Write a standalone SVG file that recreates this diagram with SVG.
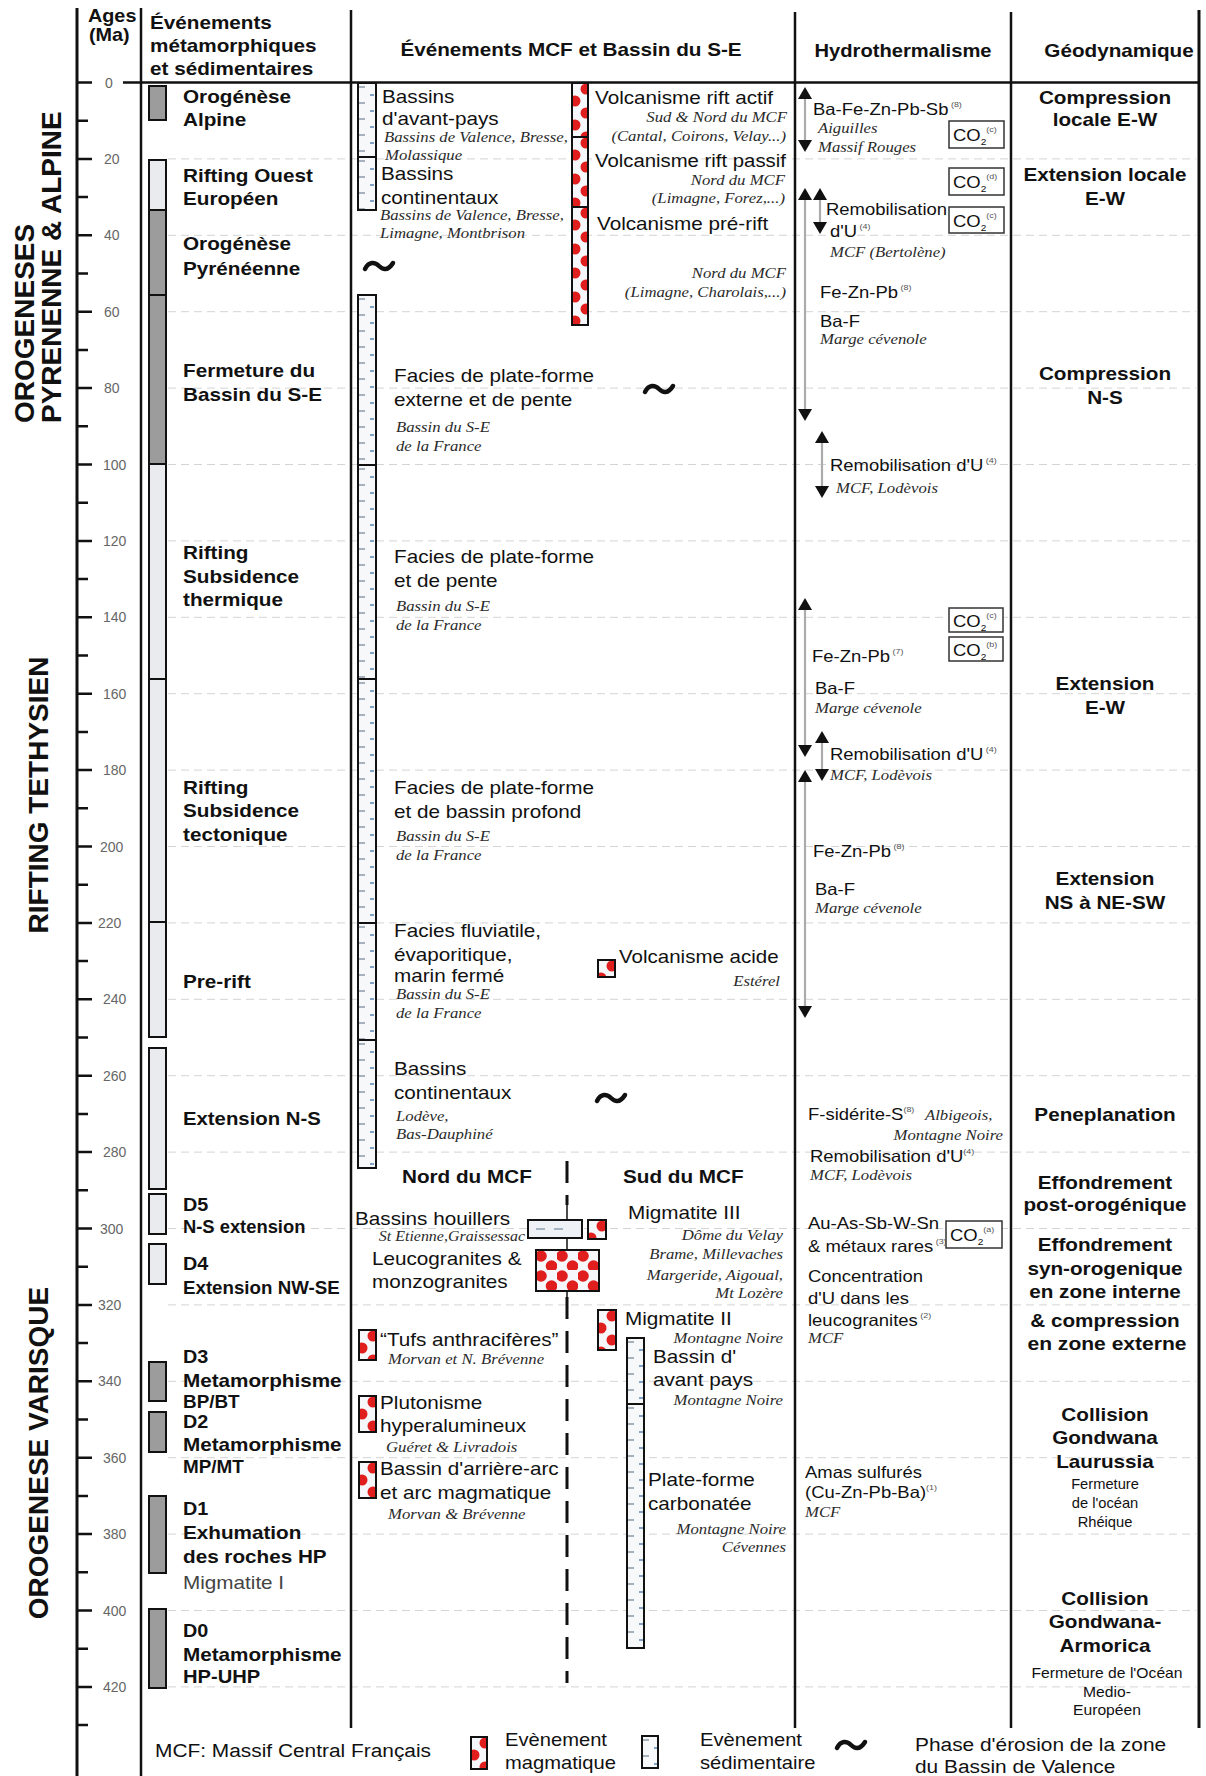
<svg xmlns="http://www.w3.org/2000/svg" width="1206" height="1776" viewBox="0 0 1206 1776">
<style>
text{font-family:"Liberation Sans",Arial,sans-serif;fill:#111}
.b{font-weight:bold;font-size:18px}
.r{font-size:18px}
.h{font-size:16.5px}
.i{font-family:"Liberation Serif","Times New Roman",serif;font-style:italic;font-size:15.5px;fill:#2a2a2a}
.t{font-size:14px;fill:#666}
.s{font-size:14px}
.e{text-anchor:end}
.m{text-anchor:middle}
.sup{font-size:8px;fill:#555}
.ttl{font-weight:bold;font-size:28px}
.col{stroke:#111;stroke-width:2.5;fill:none}
.axl{stroke:#111;stroke-width:3;fill:none}
.tk{stroke:#111;stroke-width:2.5;fill:none}
.grid{stroke:#d4d4d4;stroke-width:1;stroke-dasharray:8 5;fill:none}
.bar{stroke:#111;stroke-width:2}
.gray{fill:#9c9c9c}
.light{fill:#e9ebee}
.hl{stroke:#ababab;stroke-width:2.2;fill:none}
.co{fill:#fff;stroke:#333;stroke-width:1.5}
.til{fill:none;stroke:#111;stroke-width:4.5;stroke-linecap:round}
.sep{stroke:#111;stroke-width:3;stroke-dasharray:22 12;fill:none}
.thin{stroke:#111;stroke-width:1.5;fill:none}
</style>
<defs>
<pattern id="mag" patternUnits="userSpaceOnUse" width="17" height="24">
<rect width="17" height="24" fill="#f5f7fa"/>
<circle cx="14" cy="6" r="5.5" fill="#e01e1e"/>
<circle cx="3" cy="18" r="5.5" fill="#e01e1e"/>
</pattern>
<pattern id="magB" patternUnits="userSpaceOnUse" width="21" height="20">
<rect width="21" height="20" fill="#f5f7fa"/>
<circle cx="5" cy="6" r="5.8" fill="#e01e1e"/>
<circle cx="15.5" cy="16" r="5.8" fill="#e01e1e"/>
</pattern>
<pattern id="sed" patternUnits="userSpaceOnUse" width="18" height="16">
<rect width="18" height="16" fill="#f6f8fa"/>
<path d="M0,4h7" stroke="#8d9aa8" stroke-width="1.5"/>
<path d="M12,12h4" stroke="#5b86b5" stroke-width="1.5"/>
</pattern>
<path id="til" class="til" d="M-14,3C-10,-5 -4,-4 0,0C4,4 9,5 14,-3"/>
<path id="au" d="M0,-6L7,6H-7Z" fill="#111"/>
<path id="ad" d="M0,6L7,-6H-7Z" fill="#111"/>
</defs>
<rect width="1206" height="1776" fill="#fff"/>

<g id="grid">
<path class="grid" d="M168,158.9H1196M168,235.3H1196M168,311.7H1196M168,388.1H1196M168,464.5H1196M168,540.9H1196M168,617.3H1196M168,693.7H1196M168,770.1H1196M168,846.5H1196M168,922.9H1196M168,999.3H1196M168,1075.7H1196M168,1152.1H1196M168,1228.5H1196M168,1304.9H1196M168,1381.3H1196M168,1457.7H1196M168,1534.1H1196M168,1610.5H1196M168,1686.9H1196"/>
</g>

<g id="frame">
<path class="axl" d="M77,8V1776"/>
<path class="col" d="M141,8V1776M351,10V1728M795,12V1728M1011,12V1728M123,82.5H1200"/>
<path class="axl" d="M1199,10V1728"/>
</g>

<g id="axis">
<path class="tk" d="M77,82.5h15M77,158.9h15M77,235.3h15M77,311.7h15M77,388.1h15M77,464.5h15M77,540.9h15M77,617.3h15M77,693.7h15M77,770.1h15M77,846.5h15M77,922.9h15M77,999.3h15M77,1075.7h15M77,1152.1h15M77,1228.5h15M77,1304.9h15M77,1381.3h15M77,1457.7h15M77,1534.1h15M77,1610.5h15M77,1686.9h15"/>
<path class="tk" d="M77,120.7h11M77,197.1h11M77,273.5h11M77,349.9h11M77,426.3h11M77,502.7h11M77,579.1h11M77,655.5h11M77,731.9h11M77,808.3h11M77,884.7h11M77,961.1h11M77,1037.5h11M77,1113.9h11M77,1190.3h11M77,1266.7h11M77,1343.1h11M77,1419.5h11M77,1495.9h11M77,1572.3h11M77,1648.7h11M77,1725.1h11"/>
<text class="t" x="105" y="87.5">0</text>
<text class="t" x="104" y="163.9">20</text>
<text class="t" x="104" y="240.3">40</text>
<text class="t" x="104" y="316.7">60</text>
<text class="t" x="104" y="393.1">80</text>
<text class="t" x="103" y="469.5">100</text>
<text class="t" x="103" y="545.9">120</text>
<text class="t" x="103" y="622.3">140</text>
<text class="t" x="103" y="698.7">160</text>
<text class="t" x="103" y="775.1">180</text>
<text class="t" x="100" y="851.5">200</text>
<text class="t" x="98" y="927.9">220</text>
<text class="t" x="103" y="1004.3">240</text>
<text class="t" x="103" y="1080.7">260</text>
<text class="t" x="103" y="1157.1">280</text>
<text class="t" x="100" y="1233.5">300</text>
<text class="t" x="98" y="1309.9">320</text>
<text class="t" x="98" y="1386.3">340</text>
<text class="t" x="103" y="1462.7">360</text>
<text class="t" x="103" y="1539.1">380</text>
<text class="t" x="103" y="1615.5">400</text>
<text class="t" x="103" y="1691.9">420</text>
</g>

<g id="titles">
<text class="ttl" transform="translate(34 423) rotate(-90)">OROGENESES</text>
<text class="ttl" transform="translate(61 423) rotate(-90)">PYRENENNE &amp; ALPINE</text>
<text class="ttl m" transform="translate(48 795) rotate(-90)">RIFTING TETHYSIEN</text>
<text class="ttl m" transform="translate(48 1453) rotate(-90)">OROGENESE VARISQUE</text>
</g>

<g id="headers">
<text class="b" transform="translate(88 22) scale(1.1 1)">Ages</text>
<text class="b" transform="translate(89 41) scale(1.1 1)">(Ma)</text>
<text class="b" transform="translate(150 29) scale(1.15 1)">Événements</text>
<text class="b" transform="translate(150 52) scale(1.15 1)">métamorphiques</text>
<text class="b" transform="translate(150 75) scale(1.15 1)">et sédimentaires</text>
<text class="b m" transform="translate(571 56) scale(1.15 1)">Événements MCF et Bassin du S-E</text>
<text class="b m" transform="translate(903 57) scale(1.12 1)">Hydrothermalisme</text>
<text class="b m" transform="translate(1119 57) scale(1.15 1)">Géodynamique</text>
</g>

<g id="meta-bars">
<rect class="bar gray" x="149" y="86" width="17" height="34"/>
<rect class="bar light" x="149" y="160" width="17" height="50"/>
<rect class="bar gray" x="149" y="210" width="17" height="85"/>
<rect class="bar gray" x="149" y="295" width="17" height="169"/>
<rect class="bar light" x="149" y="464" width="17" height="215"/>
<rect class="bar light" x="149" y="679" width="17" height="243"/>
<rect class="bar light" x="149" y="922" width="17" height="115"/>
<rect class="bar light" x="149" y="1048" width="17" height="141"/>
<rect class="bar light" x="149" y="1194" width="17" height="40"/>
<rect class="bar light" x="149" y="1244" width="17" height="40"/>
<rect class="bar gray" x="149" y="1362" width="17" height="39"/>
<rect class="bar gray" x="149" y="1412" width="17" height="40"/>
<rect class="bar gray" x="149" y="1496" width="17" height="77"/>
<rect class="bar gray" x="149" y="1609" width="17" height="79"/>
</g>

<g id="meta-labels">
<text class="b" transform="translate(183 103) scale(1.15 1)">Orogénèse</text>
<text class="b" transform="translate(183 126) scale(1.15 1)">Alpine</text>
<text class="b" transform="translate(183 182) scale(1.15 1)">Rifting Ouest</text>
<text class="b" transform="translate(183 205) scale(1.15 1)">Européen</text>
<text class="b" transform="translate(183 250) scale(1.15 1)">Orogénèse</text>
<text class="b" transform="translate(183 275) scale(1.15 1)">Pyrénéenne</text>
<text class="b" transform="translate(183 377) scale(1.15 1)">Fermeture du</text>
<text class="b" transform="translate(183 401) scale(1.15 1)">Bassin du S-E</text>
<text class="b" transform="translate(183 559) scale(1.15 1)">Rifting</text>
<text class="b" transform="translate(183 583) scale(1.15 1)">Subsidence</text>
<text class="b" transform="translate(183 606) scale(1.15 1)">thermique</text>
<text class="b" transform="translate(183 794) scale(1.15 1)">Rifting</text>
<text class="b" transform="translate(183 817) scale(1.15 1)">Subsidence</text>
<text class="b" transform="translate(183 841) scale(1.15 1)">tectonique</text>
<text class="b" transform="translate(183 988) scale(1.15 1)">Pre-rift</text>
<text class="b" transform="translate(183 1125) scale(1.13 1)">Extension N-S</text>
<text class="b" transform="translate(183 1211) scale(1.1 1)">D5</text>
<text class="b" transform="translate(183 1233) scale(1.02 1)">N-S extension</text>
<text class="b" transform="translate(183 1270) scale(1.1 1)">D4</text>
<text class="b" transform="translate(183 1294) scale(1.04 1)">Extension NW-SE</text>
<text class="b" transform="translate(183 1363) scale(1.1 1)">D3</text>
<text class="b" transform="translate(183 1387) scale(1.15 1)">Metamorphisme</text>
<text class="b" transform="translate(183 1408) scale(1.05 1)">BP/BT</text>
<text class="b" transform="translate(183 1428) scale(1.1 1)">D2</text>
<text class="b" transform="translate(183 1451) scale(1.15 1)">Metamorphisme</text>
<text class="b" transform="translate(183 1473) scale(1.05 1)">MP/MT</text>
<text class="b" transform="translate(183 1515) scale(1.1 1)">D1</text>
<text class="b" transform="translate(183 1539) scale(1.15 1)">Exhumation</text>
<text class="b" transform="translate(183 1563) scale(1.15 1)">des roches HP</text>
<text class="r" transform="translate(183 1589) scale(1.15 1)" style="fill:#444">Migmatite I</text>
<text class="b" transform="translate(183 1637) scale(1.1 1)">D0</text>
<text class="b" transform="translate(183 1661) scale(1.15 1)">Metamorphisme</text>
<text class="b" transform="translate(183 1683) scale(1.12 1)">HP-UHP</text>
</g>

<g id="sed-bars">
<g transform="translate(358 83)"><rect class="bar" width="18" height="74" fill="url(#sed)"/></g>
<g transform="translate(358 157)"><rect class="bar" width="18" height="53" fill="url(#sed)"/></g>
<g transform="translate(358 295)"><rect class="bar" width="18" height="170" fill="url(#sed)"/></g>
<g transform="translate(358 465)"><rect class="bar" width="18" height="214" fill="url(#sed)"/></g>
<g transform="translate(358 679)"><rect class="bar" width="18" height="244" fill="url(#sed)"/></g>
<g transform="translate(358 923)"><rect class="bar" width="18" height="117" fill="url(#sed)"/></g>
<g transform="translate(358 1040)"><rect class="bar" width="18" height="128" fill="url(#sed)"/></g>
<g transform="translate(627 1338)"><rect class="bar" width="17" height="66" fill="url(#sed)"/></g>
<g transform="translate(627 1404)"><rect class="bar" width="17" height="244" fill="url(#sed)"/></g>
</g>

<g id="volc-bars">
<g transform="translate(572 83)"><rect class="bar" width="16" height="54" fill="url(#mag)"/></g>
<g transform="translate(572 137)"><rect class="bar" width="16" height="70" fill="url(#mag)"/></g>
<g transform="translate(572 207)"><rect class="bar" width="16" height="118" fill="url(#mag)"/></g>
<g transform="translate(598 960)"><rect class="bar" width="17" height="17" fill="url(#mag)"/></g>
</g>

<g id="erosion">
<use href="#til" x="379" y="266"/>
<use href="#til" x="659" y="389"/>
<use href="#til" x="611" y="1098"/>
</g>

<g id="mcf-texts">
<text class="r" transform="translate(382 103) scale(1.15 1)">Bassins</text>
<text class="r" transform="translate(382 125) scale(1.15 1)">d'avant-pays</text>
<text class="i" transform="translate(384 142) scale(1.08 1)">Bassins de Valence, Bresse,</text>
<text class="i" transform="translate(385 160) scale(1.08 1)">Molassique</text>
<text class="r" transform="translate(381 180) scale(1.15 1)">Bassins</text>
<text class="r" transform="translate(381 204) scale(1.15 1)">continentaux</text>
<text class="i" transform="translate(380 220) scale(1.08 1)">Bassins de Valence, Bresse,</text>
<text class="i" transform="translate(380 238) scale(1.08 1)">Limagne, Montbrison</text>
<text class="r" transform="translate(595 104) scale(1.15 1)">Volcanisme rift actif</text>
<text class="i e" transform="translate(787 122) scale(1.08 1)">Sud &amp; Nord du MCF</text>
<text class="i e" transform="translate(786 141) scale(1.08 1)">(Cantal, Coirons, Velay...)</text>
<text class="r" transform="translate(595 167) scale(1.13 1)">Volcanisme rift passif</text>
<text class="i e" transform="translate(785 185) scale(1.08 1)">Nord du MCF</text>
<text class="i e" transform="translate(785 203) scale(1.08 1)">(Limagne, Forez,...)</text>
<text class="r" transform="translate(597 230) scale(1.15 1)">Volcanisme pré-rift</text>
<text class="i e" transform="translate(786 278) scale(1.08 1)">Nord du MCF</text>
<text class="i e" transform="translate(786 297) scale(1.08 1)">(Limagne, Charolais,...)</text>

<text class="r" transform="translate(394 382) scale(1.15 1)">Facies de plate-forme</text>
<text class="r" transform="translate(394 406) scale(1.15 1)">externe et de pente</text>
<text class="i" transform="translate(396 432) scale(1.08 1)">Bassin du S-E</text>
<text class="i" transform="translate(396 451) scale(1.08 1)">de la France</text>
<text class="r" transform="translate(394 563) scale(1.15 1)">Facies de plate-forme</text>
<text class="r" transform="translate(394 587) scale(1.15 1)">et de pente</text>
<text class="i" transform="translate(396 611) scale(1.08 1)">Bassin du S-E</text>
<text class="i" transform="translate(396 630) scale(1.08 1)">de la France</text>
<text class="r" transform="translate(394 794) scale(1.15 1)">Facies de plate-forme</text>
<text class="r" transform="translate(394 818) scale(1.15 1)">et de bassin profond</text>
<text class="i" transform="translate(396 841) scale(1.08 1)">Bassin du S-E</text>
<text class="i" transform="translate(396 860) scale(1.08 1)">de la France</text>
<text class="r" transform="translate(394 937) scale(1.15 1)">Facies fluviatile,</text>
<text class="r" transform="translate(394 961) scale(1.15 1)">évaporitique,</text>
<text class="r" transform="translate(394 982) scale(1.15 1)">marin fermé</text>
<text class="i" transform="translate(396 999) scale(1.08 1)">Bassin du S-E</text>
<text class="i" transform="translate(396 1018) scale(1.08 1)">de la France</text>
<text class="r" transform="translate(619 963) scale(1.14 1)">Volcanisme acide</text>
<text class="i e" transform="translate(780 986) scale(1.08 1)">Estérel</text>
<text class="r" transform="translate(394 1075) scale(1.15 1)">Bassins</text>
<text class="r" transform="translate(394 1099) scale(1.15 1)">continentaux</text>
<text class="i" transform="translate(396 1121) scale(1.08 1)">Lodève,</text>
<text class="i" transform="translate(396 1139) scale(1.08 1)">Bas-Dauphiné</text>
</g>

<g id="nord-sud">
<path class="sep" d="M567,1161V1205M567,1297V1683"/>
<path class="thin" d="M567,1205V1220M567,1238V1250M567,1291V1297"/>
<g transform="translate(528 1220)"><rect class="bar" width="54" height="18" fill="#eef2f6"/><path d="M8,9h9M26,9h9" stroke="#8da0b3" stroke-width="1.5"/></g>
<g transform="translate(588 1220)"><rect class="bar" width="18" height="19" fill="url(#mag)"/></g>
<g transform="translate(536 1250)"><rect class="bar" width="63" height="41" fill="url(#magB)"/></g>
<g transform="translate(359 1330)"><rect class="bar" width="17" height="30" fill="url(#mag)"/></g>
<g transform="translate(359 1396)"><rect class="bar" width="17" height="36" fill="url(#mag)"/></g>
<g transform="translate(359 1462)"><rect class="bar" width="17" height="36" fill="url(#mag)"/></g>
<g transform="translate(598 1310)"><rect class="bar" width="18" height="40" fill="url(#mag)"/></g>
<text class="b" transform="translate(402 1183) scale(1.15 1)">Nord du MCF</text>
<text class="b" transform="translate(623 1183) scale(1.15 1)">Sud du MCF</text>
<text class="r" transform="translate(355 1225) scale(1.15 1)">Bassins houillers</text>
<text class="i e" transform="translate(525 1241) scale(1.03 1)">St Etienne,Graissessac</text>
<text class="r" transform="translate(372 1265) scale(1.15 1)">Leucogranites &amp;</text>
<text class="r" transform="translate(372 1288) scale(1.15 1)">monzogranites</text>
<text class="r" transform="translate(380 1346) scale(1.15 1)">“Tufs anthracifères”</text>
<text class="i" transform="translate(388 1364) scale(1.08 1)">Morvan et N. Brévenne</text>
<text class="r" transform="translate(380 1409) scale(1.15 1)">Plutonisme</text>
<text class="r" transform="translate(380 1432) scale(1.15 1)">hyperalumineux</text>
<text class="i" transform="translate(386 1452) scale(1.08 1)">Guéret &amp; Livradois</text>
<text class="r" transform="translate(380 1475) scale(1.15 1)">Bassin d'arrière-arc</text>
<text class="r" transform="translate(380 1499) scale(1.15 1)">et arc magmatique</text>
<text class="i" transform="translate(388 1519) scale(1.08 1)">Morvan &amp; Brévenne</text>
<text class="r" transform="translate(628 1219) scale(1.15 1)">Migmatite III</text>
<text class="i e" transform="translate(783 1240) scale(1.08 1)">Dôme du Velay</text>
<text class="i e" transform="translate(783 1259) scale(1.08 1)">Brame, Millevaches</text>
<text class="i e" transform="translate(783 1280) scale(1.08 1)">Margeride, Aigoual,</text>
<text class="i e" transform="translate(783 1298) scale(1.08 1)">Mt Lozère</text>
<text class="r" transform="translate(625 1325) scale(1.15 1)">Migmatite II</text>
<text class="i e" transform="translate(783 1343) scale(1.08 1)">Montagne Noire</text>
<text class="r" transform="translate(653 1363) scale(1.15 1)">Bassin d'</text>
<text class="r" transform="translate(653 1386) scale(1.15 1)">avant pays</text>
<text class="i e" transform="translate(783 1405) scale(1.08 1)">Montagne Noire</text>
<text class="r" transform="translate(648 1486) scale(1.15 1)">Plate-forme</text>
<text class="r" transform="translate(648 1510) scale(1.15 1)">carbonatée</text>
<text class="i e" transform="translate(786 1534) scale(1.08 1)">Montagne Noire</text>
<text class="i e" transform="translate(786 1552) scale(1.08 1)">Cévennes</text>
</g>

<g id="hydro">
<path class="hl" d="M805,93V146M805,194V415M820,194V228M822,437V492M805,604V751M822,737V775M805,776V1012"/>
<use href="#au" x="805" y="93"/><use href="#ad" x="805" y="146"/>
<use href="#au" x="805" y="194"/><use href="#ad" x="805" y="415"/>
<use href="#au" x="820" y="194"/><use href="#ad" x="820" y="228"/>
<use href="#au" x="822" y="437"/><use href="#ad" x="822" y="492"/>
<use href="#au" x="805" y="604"/><use href="#ad" x="805" y="751"/>
<use href="#au" x="822" y="737"/><use href="#ad" x="822" y="775"/>
<use href="#au" x="805" y="776"/><use href="#ad" x="805" y="1012"/>

<g transform="translate(949 121)"><rect class="co" width="55" height="27"/><text class="h" transform="translate(4 20) scale(1.12 1)">CO<tspan font-size="9" dy="4">2</tspan><tspan class="sup" dy="-13">(c)</tspan></text></g>
<g transform="translate(949 168)"><rect class="co" width="55" height="27"/><text class="h" transform="translate(4 20) scale(1.12 1)">CO<tspan font-size="9" dy="4">2</tspan><tspan class="sup" dy="-13">(d)</tspan></text></g>
<g transform="translate(949 207)"><rect class="co" width="55" height="26"/><text class="h" transform="translate(4 20) scale(1.12 1)">CO<tspan font-size="9" dy="4">2</tspan><tspan class="sup" dy="-13">(c)</tspan></text></g>
<g transform="translate(949 608)"><rect class="co" width="54" height="24"/><text class="h" transform="translate(4 19) scale(1.12 1)">CO<tspan font-size="9" dy="4">2</tspan><tspan class="sup" dy="-13">(c)</tspan></text></g>
<g transform="translate(949 637)"><rect class="co" width="54" height="24"/><text class="h" transform="translate(4 19) scale(1.12 1)">CO<tspan font-size="9" dy="4">2</tspan><tspan class="sup" dy="-13">(b)</tspan></text></g>
<g transform="translate(946 1221)"><rect class="co" width="56" height="27"/><text class="h" transform="translate(4 20) scale(1.12 1)">CO<tspan font-size="9" dy="4">2</tspan><tspan class="sup" dy="-13">(a)</tspan></text></g>

<text class="h" transform="translate(813 115) scale(1.12 1)">Ba-Fe-Zn-Pb-Sb<tspan class="sup" dy="-8"> (8)</tspan></text>
<text class="i" transform="translate(818 133) scale(1.08 1)">Aiguilles</text>
<text class="i" transform="translate(818 152) scale(1.08 1)">Massif Rouges</text>
<text class="h" transform="translate(826 215) scale(1.12 1)">Remobilisation</text>
<text class="h" transform="translate(830 237) scale(1.12 1)">d'U<tspan class="sup" dy="-8"> (4)</tspan></text>
<text class="i" transform="translate(830 257) scale(1.08 1)">MCF (Bertolène)</text>
<text class="h" transform="translate(820 298) scale(1.12 1)">Fe-Zn-Pb<tspan class="sup" dy="-8"> (8)</tspan></text>
<text class="h" transform="translate(820 327) scale(1.12 1)">Ba-F</text>
<text class="i" transform="translate(820 344) scale(1.08 1)">Marge cévenole</text>
<text class="h" transform="translate(830 471) scale(1.12 1)">Remobilisation d'U<tspan class="sup" dy="-8"> (4)</tspan></text>
<text class="i" transform="translate(836 493) scale(1.08 1)">MCF, Lodèvois</text>
<text class="h" transform="translate(812 662) scale(1.12 1)">Fe-Zn-Pb<tspan class="sup" dy="-8"> (7)</tspan></text>
<text class="h" transform="translate(815 694) scale(1.12 1)">Ba-F</text>
<text class="i" transform="translate(815 713) scale(1.08 1)">Marge cévenole</text>
<text class="h" transform="translate(830 760) scale(1.12 1)">Remobilisation d'U<tspan class="sup" dy="-8"> (4)</tspan></text>
<text class="i" transform="translate(830 780) scale(1.08 1)">MCF, Lodèvois</text>
<text class="h" transform="translate(813 857) scale(1.12 1)">Fe-Zn-Pb<tspan class="sup" dy="-8"> (8)</tspan></text>
<text class="h" transform="translate(815 895) scale(1.12 1)">Ba-F</text>
<text class="i" transform="translate(815 913) scale(1.08 1)">Marge cévenole</text>
<text class="h" transform="translate(808 1120) scale(1.12 1)">F-sidérite-S<tspan class="sup" dy="-8">(8)</tspan></text>
<text class="i" transform="translate(925 1120) scale(1.08 1)">Albigeois,</text>
<text class="i e" transform="translate(1003 1140) scale(1.08 1)">Montagne Noire</text>
<text class="h" transform="translate(810 1162) scale(1.12 1)">Remobilisation d'U<tspan class="sup" dy="-8">(4)</tspan></text>
<text class="i" transform="translate(810 1180) scale(1.08 1)">MCF, Lodèvois</text>
<text class="h" transform="translate(808 1229) scale(1.12 1)">Au-As-Sb-W-Sn</text>
<text class="h" transform="translate(808 1252) scale(1.12 1)">&amp; métaux rares<tspan class="sup" dy="-8"> (3)</tspan></text>
<text class="h" transform="translate(808 1282) scale(1.12 1)">Concentration</text>
<text class="h" transform="translate(808 1304) scale(1.12 1)">d'U dans les</text>
<text class="h" transform="translate(808 1326) scale(1.12 1)">leucogranites<tspan class="sup" dy="-8"> (2)</tspan></text>
<text class="i" transform="translate(808 1343) scale(1.08 1)">MCF</text>
<text class="h" transform="translate(805 1478) scale(1.12 1)">Amas sulfurés</text>
<text class="h" transform="translate(805 1498) scale(1.12 1)">(Cu-Zn-Pb-Ba)<tspan class="sup" dy="-8">(1)</tspan></text>
<text class="i" transform="translate(805 1517) scale(1.08 1)">MCF</text>
</g>

<g id="geodynamique">
<text class="b m" transform="translate(1105 104) scale(1.15 1)">Compression</text>
<text class="b m" transform="translate(1105 126) scale(1.15 1)">locale E-W</text>
<text class="b m" transform="translate(1105 181) scale(1.15 1)">Extension locale</text>
<text class="b m" transform="translate(1105 205) scale(1.15 1)">E-W</text>
<text class="b m" transform="translate(1105 380) scale(1.15 1)">Compression</text>
<text class="b m" transform="translate(1105 404) scale(1.15 1)">N-S</text>
<text class="b m" transform="translate(1105 690) scale(1.15 1)">Extension</text>
<text class="b m" transform="translate(1105 714) scale(1.15 1)">E-W</text>
<text class="b m" transform="translate(1105 885) scale(1.15 1)">Extension</text>
<text class="b m" transform="translate(1105 909) scale(1.15 1)">NS à NE-SW</text>
<text class="b m" transform="translate(1105 1121) scale(1.15 1)">Peneplanation</text>
<text class="b m" transform="translate(1105 1189) scale(1.15 1)">Effondrement</text>
<text class="b m" transform="translate(1105 1211) scale(1.15 1)">post-orogénique</text>
<text class="b m" transform="translate(1105 1251) scale(1.15 1)">Effondrement</text>
<text class="b m" transform="translate(1105 1275) scale(1.15 1)">syn-orogenique</text>
<text class="b m" transform="translate(1105 1298) scale(1.15 1)">en zone interne</text>
<text class="b m" transform="translate(1105 1327) scale(1.15 1)">&amp; compression</text>
<text class="b m" transform="translate(1107 1350) scale(1.17 1)">en zone externe</text>
<text class="b m" transform="translate(1105 1421) scale(1.15 1)">Collision</text>
<text class="b m" transform="translate(1105 1444) scale(1.15 1)">Gondwana</text>
<text class="b m" transform="translate(1105 1468) scale(1.15 1)">Laurussia</text>
<text class="s m" transform="translate(1105 1489) scale(1.05 1)">Fermeture</text>
<text class="s m" transform="translate(1105 1508) scale(1.05 1)">de l'océan</text>
<text class="s m" transform="translate(1105 1527) scale(1.05 1)">Rhéique</text>
<text class="b m" transform="translate(1105 1605) scale(1.15 1)">Collision</text>
<text class="b m" transform="translate(1105 1628) scale(1.15 1)">Gondwana-</text>
<text class="b m" transform="translate(1105 1652) scale(1.15 1)">Armorica</text>
<text class="s m" transform="translate(1107 1678) scale(1.12 1)">Fermeture de l'Océan</text>
<text class="s m" transform="translate(1107 1697) scale(1.12 1)">Medio-</text>
<text class="s m" transform="translate(1107 1715) scale(1.12 1)">Européen</text>
</g>

<g id="legend">
<text class="r" transform="translate(155 1757) scale(1.16 1)">MCF: Massif Central Français</text>
<g transform="translate(471 1737)"><rect class="bar" width="16" height="32" fill="url(#mag)"/></g>
<text class="r" transform="translate(505 1746) scale(1.12 1)">Evènement</text>
<text class="r" transform="translate(505 1769) scale(1.12 1)">magmatique</text>
<g transform="translate(642 1736)"><rect class="bar" width="16" height="32" fill="url(#sed)"/></g>
<text class="r" transform="translate(700 1746) scale(1.12 1)">Evènement</text>
<text class="r" transform="translate(700 1769) scale(1.12 1)">sédimentaire</text>
<use href="#til" x="851" y="1745"/>
<text class="r" transform="translate(915 1751) scale(1.16 1)">Phase d'érosion de la zone</text>
<text class="r" transform="translate(915 1773) scale(1.16 1)">du Bassin de Valence</text>
</g>
</svg>
